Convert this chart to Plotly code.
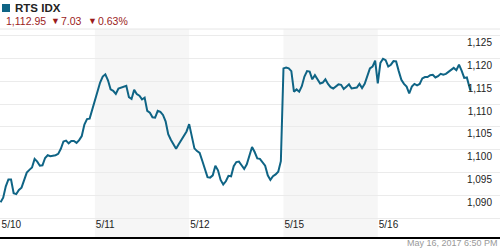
import plotly.graph_objects as go

# ---- data (RTS index, 15-minute closes, 10:00 .. 18:45 each session) ----
days = ["5/10", "5/11", "5/12", "5/15", "5/16"]
d1 = [1088.5, 1089.5, 1092.0, 1093.5, 1093.5, 1090.5, 1090.3, 1091.2, 1091.7, 1093.6,
      1095.0, 1095.6, 1096.1, 1098.0, 1097.4, 1096.5, 1096.6, 1098.2, 1098.8, 1098.6,
      1098.7, 1098.8, 1099.1, 1100.2, 1101.8, 1102.0, 1101.4, 1101.9, 1101.9, 1101.5,
      1102.1, 1103.0, 1105.5, 1106.7, 1106.8, 1108.8]
d2 = [1111.0, 1112.5, 1114.7, 1116.0, 1116.5, 1115.2, 1113.2, 1112.9, 1112.2, 1113.4,
      1113.6, 1113.7, 1114.0, 1111.5, 1111.1, 1113.1, 1112.2, 1111.8, 1111.0, 1111.4,
      1108.5, 1108.1, 1107.1, 1107.0, 1108.5, 1108.3, 1107.6, 1106.2, 1103.4, 1102.2,
      1101.1, 1100.2, 1101.2, 1102.2, 1103.2, 1104.0]
d3 = [1105.6, 1103.0, 1100.3, 1099.7, 1099.3, 1097.6, 1095.5, 1094.0, 1093.9, 1094.4,
      1096.5, 1095.5, 1093.4, 1092.4, 1093.1, 1094.3, 1094.2, 1096.4, 1097.3, 1097.4,
      1096.6, 1095.8, 1096.8, 1098.6, 1100.6, 1099.5, 1098.1, 1098.0, 1097.2, 1096.5,
      1094.4, 1093.4, 1094.2, 1094.6, 1095.2, 1097.5]
d4 = [1117.8, 1118.0, 1117.8, 1117.2, 1112.7, 1113.2, 1112.7, 1113.9, 1116.0, 1117.2,
      1117.1, 1115.4, 1116.3, 1115.5, 1114.5, 1114.7, 1115.4, 1114.4, 1113.7, 1113.4,
      1113.9, 1114.3, 1114.2, 1113.3, 1113.8, 1114.3, 1113.4, 1113.5, 1113.6, 1114.4,
      1113.5, 1114.4, 1116.1, 1117.8, 1118.2, 1119.5]
d5 = [1114.5, 1119.0, 1119.9, 1119.6, 1118.2, 1118.6, 1119.4, 1119.3, 1117.2, 1115.3,
      1114.4, 1113.8, 1112.3, 1113.8, 1114.4, 1114.1, 1114.4, 1115.6, 1115.9, 1115.9,
      1116.3, 1116.4, 1115.8, 1116.1, 1116.6, 1116.4, 1116.6, 1117.0, 1117.4, 1117.9,
      1117.4, 1118.6, 1117.3, 1115.7, 1115.8, 1114.0, 1112.95]
sessions = [d1, d2, d3, d4, d5]
session_minutes = 540          # 10:00 .. 19:00 slot per day
step_minutes = 15

y_ticks = [1085, 1090, 1095, 1100, 1105, 1110, 1115, 1120, 1125]
y_ticktext = ["", "1,090", "1,095", "1,100", "1,105", "1,110", "1,115", "1,120", "1,125"]

title = "RTS IDX"
last_value = "1,112.95"
change = "7.03"
change_pct = "0.63%"
stamp = "May 16, 2017 6:50 PM"

LINE = "#0f6485"
RED = "#9b1c1c"

xs, ys = [], []
for d, vals in enumerate(sessions):
    for k, v in enumerate(vals):
        mins = k * step_minutes if k < 36 else 530
        xs.append(d + mins / session_minutes)
        ys.append(v)

fig = go.Figure()
fig.add_trace(go.Scatter(x=xs, y=ys, mode="lines",
                         line=dict(color=LINE, width=2), hoverinfo="skip"))

# alternating day bands
for d in range(len(days)):
    if d % 2 == 1:
        fig.add_shape(type="rect", xref="x", yref="paper", x0=d, x1=d + 1, y0=0, y1=1,
                      fillcolor="#f6f6f6", line_width=0, layer="below")
# top border line
fig.add_shape(type="line", xref="paper", yref="paper", x0=0, x1=1, y0=1, y1=1,
              line=dict(color="#e6e6e6", width=1))

T, PH = 29, 208


def py(px):
    """pixel row -> paper y"""
    return 1 - (px - T) / PH


FONT = "Liberation Sans, Arial, sans-serif"
fig.update_layout(
    width=500, height=250,
    margin=dict(l=0, r=0, t=T, b=250 - T - PH),
    paper_bgcolor="white", plot_bgcolor="white",
    showlegend=False,
    font=dict(family=FONT, size=10, color="#222"),
    xaxis=dict(range=[-0.006, 5.296], tickvals=list(range(len(days))), ticktext=days,
               ticklabelposition="inside right", ticklabelstandoff=3,
               showgrid=False, zeroline=False,
               showline=True, linecolor="black", linewidth=2, ticks="",
               tickfont=dict(size=10, color="#222", family=FONT)),
    yaxis=dict(range=[1080.91, 1126.41], side="right", tickvals=y_ticks, ticktext=y_ticktext,
               ticklabelposition="inside bottom", ticklabelstandoff=5,
               showgrid=True, gridcolor="#ebebeb",
               gridwidth=1, zeroline=False, showline=False, ticks="",
               tickfont=dict(size=10, color="#222", family=FONT)),
)

# header
fig.add_shape(type="rect", xref="paper", yref="paper",
              x0=2 / 500, x1=10 / 500, y0=py(12), y1=py(4),
              fillcolor=LINE, line_width=0)
fig.add_annotation(xref="paper", yref="paper", x=13 / 500, y=py(7.5),
                   text="<b>" + title + "</b>", showarrow=False, xanchor="left", yanchor="middle",
                   font=dict(size=11.5, color="#222", family=FONT))
header_parts = [(4, last_value), (49, "\u25BC"), (59, change), (86, "\u25BC"), (96, change_pct)]
for xpx, txt in header_parts:
    fig.add_annotation(xref="paper", yref="paper", x=xpx / 500, y=py(20.5),
                       text=txt, showarrow=False, xanchor="left", yanchor="middle",
                       font=dict(size=10.5 if txt != "\u25BC" else 9, color=RED, family=FONT))
fig.add_annotation(xref="paper", yref="paper", x=1, y=py(243),
                   text=stamp, showarrow=False, xanchor="right", yanchor="middle",
                   font=dict(size=9, color="#999", family=FONT))

fig.write_html("out.html")
